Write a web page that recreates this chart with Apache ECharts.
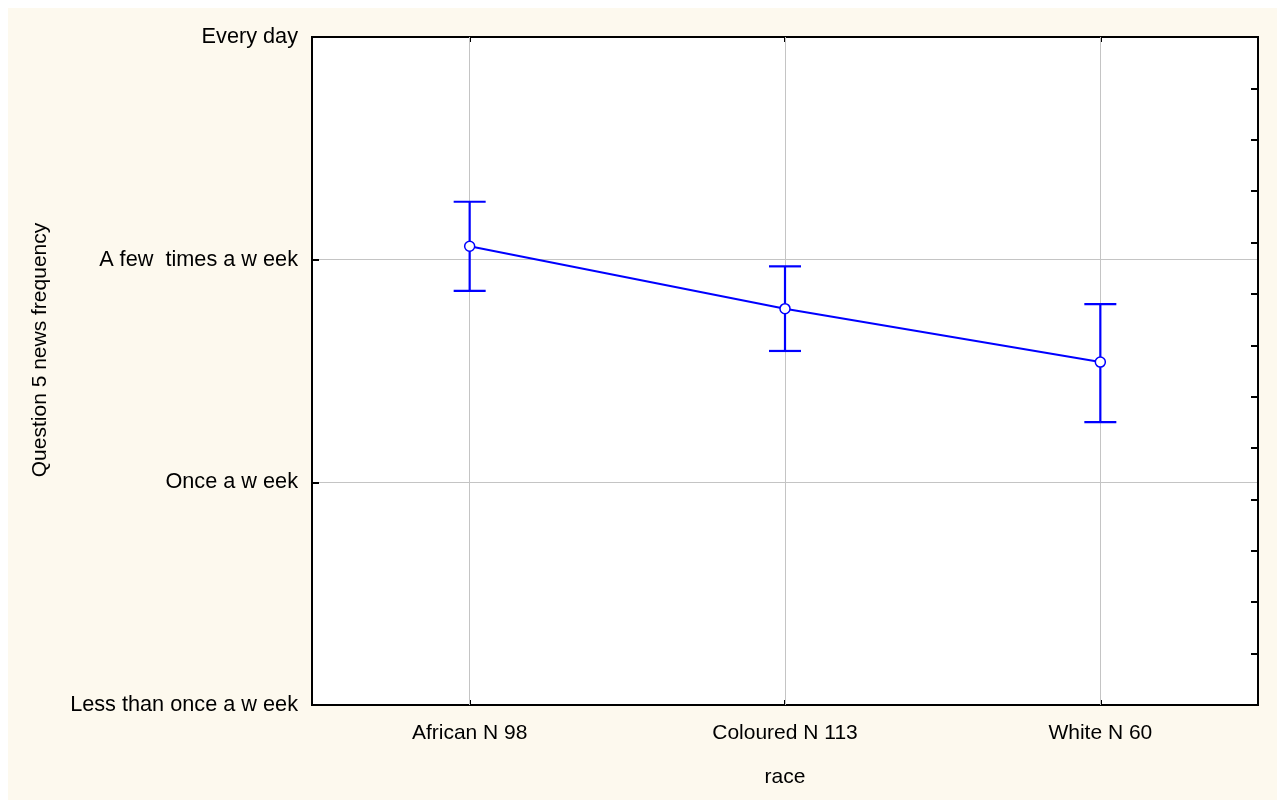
<!DOCTYPE html>
<html>
<head>
<meta charset="utf-8">
<script src="https://cdn.jsdelivr.net/npm/echarts@6/dist/echarts.min.js"></script>
<style>
  html, body { margin: 0; padding: 0; background: #ffffff; }
  #chart { width: 1277px; height: 800px; }
</style>
</head>
<body>
<div id="chart"></div>
<script>
// Groups on the x axis
const categories = ['African N 98', 'Coloured N 113', 'White N 60'];
// Mean response (1 = least often, 4 = every day) and the ends of each error bar
const means = [3.06, 2.78, 2.54];
const upper = [3.26, 2.97, 2.80];
const lower = [2.86, 2.59, 2.27];
// Answer levels shown on the y axis, from value 1 up to value 4
const levelLabels = ['Less than once a w eek', 'Once a w eek', 'A few  times a w eek', 'Every day'];

const FONT = "'Liberation Sans', Arial, sans-serif";
const BLUE = '#0000ff';
const GRID_GRAY = '#c4c4c4';

const chart = echarts.init(document.getElementById('chart'), null, { renderer: 'canvas' });

const errorData = categories.map((c, i) => [i, lower[i], upper[i]]);

const option = {
  animation: false,
  backgroundColor: '#ffffff',
  textStyle: { fontFamily: FONT },
  graphic: [{
    type: 'rect',
    z: -10,
    silent: true,
    shape: { x: 8, y: 8, width: 1269, height: 792 },
    style: { fill: '#fdf9ee' }
  }],
  grid: {
    left: 312, right: 19, top: 37, bottom: 95,
    show: true,
    backgroundColor: '#ffffff',
    borderColor: '#000000',
    borderWidth: 2
  },
  xAxis: [{
    type: 'category',
    data: categories,
    position: 'bottom',
    boundaryGap: true,
    axisLine: { show: true, lineStyle: { color: '#000', width: 2 } },
    axisTick: { show: true, inside: true, alignWithLabel: true, length: 5, lineStyle: { color: '#000', width: 2 } },
    axisLabel: { color: '#000', fontSize: 21, fontFamily: FONT, margin: 18 },
    splitLine: { show: false },
    name: 'race',
    nameLocation: 'middle',
    nameGap: 62,
    nameTextStyle: { color: '#000', fontSize: 21, fontFamily: FONT }
  }, {
    type: 'category',
    data: categories,
    position: 'top',
    boundaryGap: true,
    axisLine: { show: true, lineStyle: { color: '#000', width: 2 } },
    axisTick: { show: true, inside: true, alignWithLabel: true, length: 5, lineStyle: { color: '#000', width: 2 } },
    axisLabel: { show: false },
    splitLine: { show: false }
  }],
  yAxis: [{
    type: 'value',
    min: 1, max: 4, interval: 1,
    position: 'left',
    axisLine: { show: true, lineStyle: { color: '#000', width: 2 } },
    axisTick: { show: true, inside: true, length: 7, lineStyle: { color: '#000', width: 2 } },
    axisLabel: {
      color: '#000', fontSize: 21.7, fontFamily: FONT, margin: 14,
      formatter: v => levelLabels[Math.round(v) - 1] || ''
    },
    splitLine: { show: true, lineStyle: { color: GRID_GRAY, width: 1 } },
    name: 'Question 5 news frequency',
    nameLocation: 'middle',
    nameGap: 261,
    nameTextStyle: { color: '#000', fontSize: 21, fontFamily: FONT, padding: [0, 0, 0, 42] }
  }, {
    // minor tick marks along the right edge
    type: 'value',
    min: 0, max: 13, interval: 1,
    position: 'right',
    axisLine: { show: true, lineStyle: { color: '#000', width: 2 } },
    axisTick: { show: true, inside: true, length: 7, lineStyle: { color: '#000', width: 2 } },
    axisLabel: { show: false },
    splitLine: { show: false }
  }],
  series: [{
    // vertical grid lines through each group
    type: 'line',
    data: [],
    z: 1,
    silent: true,
    markLine: {
      z: 1,
      silent: true,
      symbol: ['none', 'none'],
      label: { show: false },
      lineStyle: { color: GRID_GRAY, width: 1, type: 'solid' },
      data: categories.map(c => ({ xAxis: c }))
    }
  }, {
    type: 'custom',
    z: 3,
    data: errorData,
    renderItem: function (params, api) {
      const x = api.value(0);
      const lo = api.coord([x, api.value(1)]);
      const hi = api.coord([x, api.value(2)]);
      const half = 16;
      const style = { stroke: BLUE, lineWidth: 2.2, fill: null };
      return {
        type: 'group',
        children: [
          { type: 'line', shape: { x1: lo[0], y1: lo[1], x2: hi[0], y2: hi[1] }, style },
          { type: 'line', shape: { x1: hi[0] - half, y1: hi[1], x2: hi[0] + half, y2: hi[1] }, style },
          { type: 'line', shape: { x1: lo[0] - half, y1: lo[1], x2: lo[0] + half, y2: lo[1] }, style }
        ]
      };
    }
  }, {
    type: 'line',
    z: 4,
    data: means,
    symbol: 'circle',
    symbolSize: 10,
    showAllSymbol: true,
    lineStyle: { color: BLUE, width: 2 },
    itemStyle: { color: '#ffffff', borderColor: BLUE, borderWidth: 1.5 }
  }]
};

chart.setOption(option);
</script>
</body>
</html>
